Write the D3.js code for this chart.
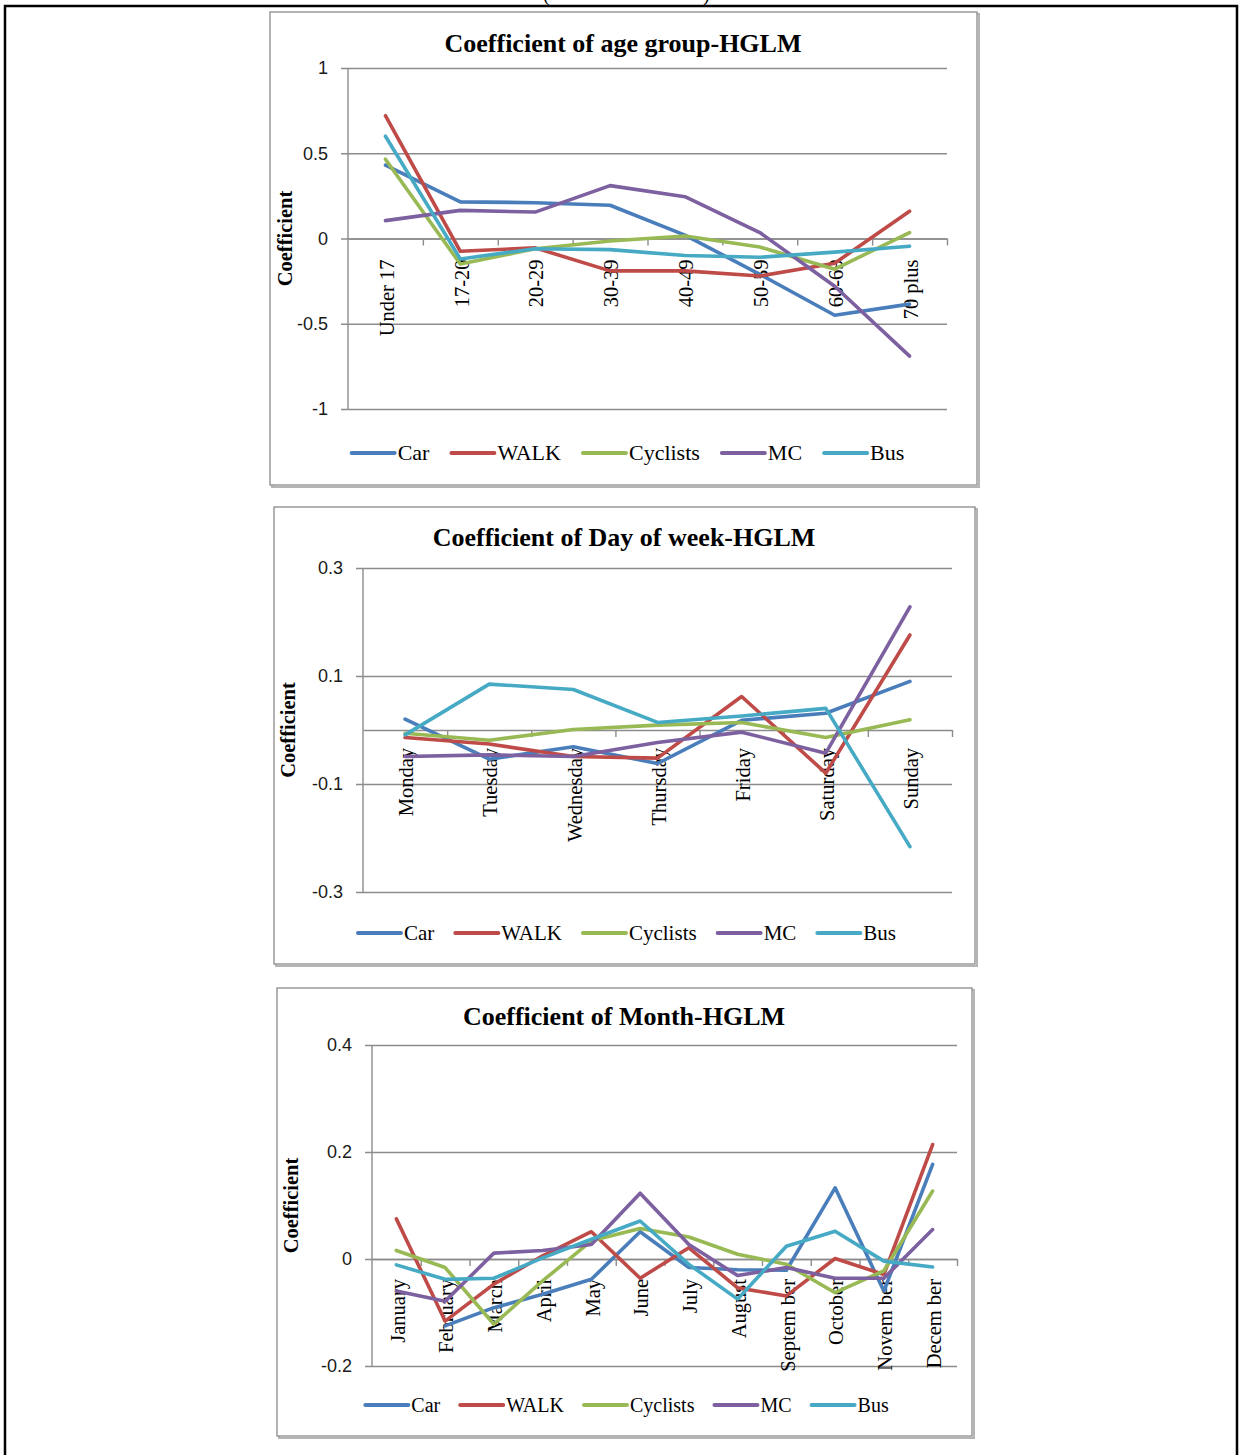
<!DOCTYPE html>
<html>
<head>
<meta charset="utf-8">
<script src="https://cdn.jsdelivr.net/npm/d3@7"></script>
<style>
  html, body { margin: 0; padding: 0; background: #fff; }
  svg { display: block; }
</style>
</head>
<body>
<svg id="page" width="1240" height="1455"></svg>
<script>
// ---- Series names and colours ----
const seriesNames = ["Car", "WALK", "Cyclists", "MC", "Bus"];
const seriesColors = ["#4A7EBB", "#BE4B48", "#98B954", "#7D60A0", "#46AAC5"];

// ---- Age group coefficients ----
const ageGroups = ["Under 17", "17-20", "20-29", "30-39", "40-49", "50-59", "60-69", "70 plus"];
const ageCar      = [0.43, 0.215, 0.21, 0.195, 0.02, -0.21, -0.45, -0.385];
const ageWalk     = [0.72, -0.075, -0.055, -0.19, -0.19, -0.22, -0.145, 0.16];
const ageCyclists = [0.465, -0.15, -0.06, -0.015, 0.015, -0.05, -0.18, 0.035];
const ageMC       = [0.105, 0.165, 0.155, 0.31, 0.245, 0.035, -0.28, -0.69];
const ageBus      = [0.60, -0.12, -0.06, -0.065, -0.10, -0.11, -0.08, -0.045];
const ageTicks = [-1, -0.5, 0, 0.5, 1];

// ---- Day of week coefficients ----
const days = ["Monday", "Tuesday", "Wednesday", "Thursday", "Friday", "Saturday", "Sunday"];
const dayCar      = [0.02, -0.054, -0.031, -0.062, 0.018, 0.031, 0.09];
const dayWalk     = [-0.014, -0.026, -0.049, -0.052, 0.062, -0.08, 0.176];
const dayCyclists = [-0.006, -0.019, 0.001, 0.009, 0.014, -0.014, 0.019];
const dayMC       = [-0.049, -0.046, -0.049, -0.023, -0.004, -0.043, 0.228];
const dayBus      = [-0.009, 0.085, 0.075, 0.014, 0.026, 0.040, -0.216];
const dayTicks = [-0.3, -0.1, 0.1, 0.3];

// ---- Month coefficients ----
const months = ["January", "February", "March", "April", "May", "June", "July", "August", "Septem ber", "October", "Novem ber", "Decem ber"];
const monthCar      = [null, -0.125, -0.091, -0.066, -0.038, 0.051, -0.016, -0.02, -0.021, 0.133, -0.06, 0.177];
const monthWalk     = [0.075, -0.116, -0.047, 0.006, 0.051, -0.036, 0.021, -0.054, -0.069, 0.001, -0.029, 0.214];
const monthCyclists = [0.016, -0.016, -0.122, -0.041, 0.034, 0.057, 0.041, 0.009, -0.01, -0.063, -0.022, 0.127];
const monthMC       = [-0.06, -0.079, 0.011, 0.016, 0.027, 0.123, 0.027, -0.031, -0.016, -0.036, -0.036, 0.055];
const monthBus      = [-0.011, -0.038, -0.036, 0.002, 0.037, 0.071, -0.01, -0.075, 0.024, 0.052, -0.004, -0.015];
const monthTicks = [-0.2, 0, 0.2, 0.4];

const SERIF = "'Liberation Serif', 'Times New Roman', serif";
const SANS = "'Liberation Sans', Arial, sans-serif";
const GRID = "#8c8c8c";

const svg = d3.select("#page");

// Outer page border and the caption brackets running off the top edge
svg.append("text").attr("x", 543).attr("y", 1).attr("font-family", SERIF)
  .attr("font-size", 20).attr("fill", "#000").text("(");
svg.append("text").attr("x", 703).attr("y", 1).attr("font-family", SERIF)
  .attr("font-size", 20).attr("fill", "#000").text(")");
svg.append("path")
  .attr("d", "M5,1455 V6 H1237 V1455")
  .attr("fill", "none").attr("stroke", "#000").attr("stroke-width", 2.5);

function drawChart(cfg) {
  const g = svg.append("g");

  // chart frame with a soft drop shadow
  g.append("rect")
    .attr("x", cfg.frame[0] + 2).attr("y", cfg.frame[1] + 2)
    .attr("width", cfg.frame[2] - cfg.frame[0]).attr("height", cfg.frame[3] - cfg.frame[1])
    .attr("fill", "none").attr("stroke", "#b5b5b5").attr("stroke-width", 2);
  g.append("rect")
    .attr("x", cfg.frame[0]).attr("y", cfg.frame[1])
    .attr("width", cfg.frame[2] - cfg.frame[0]).attr("height", cfg.frame[3] - cfg.frame[1])
    .attr("fill", "#fff").attr("stroke", "#8a8a8a").attr("stroke-width", 1.3);

  const [x0, x1] = cfg.xRange;
  const [yTop, yBot] = cfg.yRange;
  const y = d3.scaleLinear().domain(cfg.yDomain).range([yBot, yTop]);
  const x = d3.scaleBand().domain(cfg.categories).range([x0, x1]).padding(0);
  const xIdx = d3.scaleLinear().domain([0, cfg.categories.length]).range([x0, x1]);
  const y0 = y(0);

  // Title
  g.append("text")
    .attr("x", cfg.titleX).attr("y", cfg.titleY)
    .attr("text-anchor", "middle")
    .attr("font-family", SERIF).attr("font-weight", "bold").attr("font-size", 26)
    .attr("fill", "#000").text(cfg.title);

  // Y axis title
  g.append("text")
    .attr("transform", `translate(${cfg.yLabelX},${(yTop + yBot) / 2}) rotate(-90)`)
    .attr("text-anchor", "middle")
    .attr("font-family", SERIF).attr("font-weight", "bold").attr("font-size", 20.5)
    .attr("fill", "#000").text("Coefficient");

  // Horizontal gridlines with their outside ticks and labels
  const yAxis = d3.axisLeft(y)
    .tickValues(cfg.ticks)
    .tickSize(-(x1 - x0))
    .tickSizeOuter(0)
    .tickFormat(d => String(d));
  const ya = g.append("g").attr("transform", `translate(${x0},0)`).call(yAxis);
  ya.select(".domain").remove();
  ya.selectAll(".tick line").attr("stroke", GRID).attr("stroke-width", 1.4).attr("x1", -7);
  ya.selectAll(".tick text")
    .attr("x", -20)
    .attr("font-family", SANS).attr("font-size", 18).attr("fill", "#1a1a1a");

  // Vertical axis line
  g.append("line")
    .attr("x1", x0).attr("x2", x0).attr("y1", yTop).attr("y2", yBot)
    .attr("stroke", GRID).attr("stroke-width", 1.4);

  // Category axis through zero, ticks between categories
  const xAxis = d3.axisBottom(xIdx)
    .tickValues(d3.range(1, cfg.categories.length + 1))
    .tickSize(7).tickSizeOuter(0).tickFormat("");
  const xa = g.append("g").attr("transform", `translate(0,${y0})`).call(xAxis);
  xa.select(".domain").attr("stroke", GRID).attr("stroke-width", 1.4);
  xa.selectAll(".tick line").attr("stroke", GRID).attr("stroke-width", 1.4);

  // Category labels, rotated
  const lab = d3.axisBottom(x).tickSize(0).tickSizeOuter(0);
  const la = g.append("g").attr("transform", `translate(0,${y0})`).call(lab);
  la.select(".domain").remove();
  la.selectAll(".tick text")
    .attr("transform", "rotate(-90)")
    .attr("text-anchor", "end")
    .attr("x", -cfg.labelGap).attr("y", 0).attr("dy", "0.4em")
    .attr("font-family", SERIF).attr("font-size", 20.5).attr("fill", "#000");

  // Series lines
  const line = d3.line()
    .defined(d => d.v !== null)
    .x(d => x(d.c) + x.bandwidth() / 2)
    .y(d => y(d.v));
  cfg.series.forEach((vals, i) => {
    const pts = cfg.categories.map((c, k) => ({ c, v: vals[k] }));
    g.append("path")
      .datum(pts)
      .attr("d", line)
      .attr("fill", "none")
      .attr("stroke", seriesColors[i])
      .attr("stroke-width", 3.6)
      .attr("stroke-linejoin", "round")
      .attr("stroke-linecap", "round");
  });

  // Legend
  const lg = g.append("g");
  const gap = cfg.legendGap;
  let cx = 0;
  seriesNames.forEach((name, i) => {
    const it = lg.append("g");
    it.append("line").attr("x1", 0).attr("x2", 43).attr("y1", 0).attr("y2", 0)
      .attr("stroke", seriesColors[i]).attr("stroke-width", 4).attr("stroke-linecap", "round");
    const t = it.append("text").attr("x", 46).attr("y", 0).attr("dy", "0.34em")
      .attr("font-family", SERIF).attr("font-size", cfg.legendSize).attr("fill", "#000").text(name);
    const w = 46 + t.node().getComputedTextLength();
    it.attr("transform", `translate(${cx},0)`);
    cx += w + gap;
  });
  const total = cx - gap;
  lg.attr("transform", `translate(${cfg.legendCenter - total / 2},${cfg.legendY})`);
}

drawChart({
  frame: [270, 12, 977, 485],
  xRange: [348, 947], yRange: [68, 409],
  yDomain: [-1, 1], ticks: ageTicks,
  categories: ageGroups,
  series: [ageCar, ageWalk, ageCyclists, ageMC, ageBus],
  title: "Coefficient of age group-HGLM", titleX: 623, titleY: 52,
  yLabelX: 292, labelGap: 21,
  legendY: 453, legendCenter: 628, legendSize: 22, legendGap: 22
});

drawChart({
  frame: [274, 507, 975, 964],
  xRange: [363, 952], yRange: [568, 892],
  yDomain: [-0.3, 0.3], ticks: dayTicks,
  categories: days,
  series: [dayCar, dayWalk, dayCyclists, dayMC, dayBus],
  title: "Coefficient of Day of week-HGLM", titleX: 624, titleY: 546,
  yLabelX: 295, labelGap: 18,
  legendY: 933, legendCenter: 627, legendSize: 21, legendGap: 21
});

drawChart({
  frame: [277, 988, 972, 1436],
  xRange: [372, 957], yRange: [1045, 1366],
  yDomain: [-0.2, 0.4], ticks: monthTicks,
  categories: months,
  series: [monthCar, monthWalk, monthCyclists, monthMC, monthBus],
  title: "Coefficient of Month-HGLM", titleX: 624, titleY: 1025,
  yLabelX: 298, labelGap: 20,
  legendY: 1405, legendCenter: 627, legendSize: 20, legendGap: 20
});
</script>
</body>
</html>
